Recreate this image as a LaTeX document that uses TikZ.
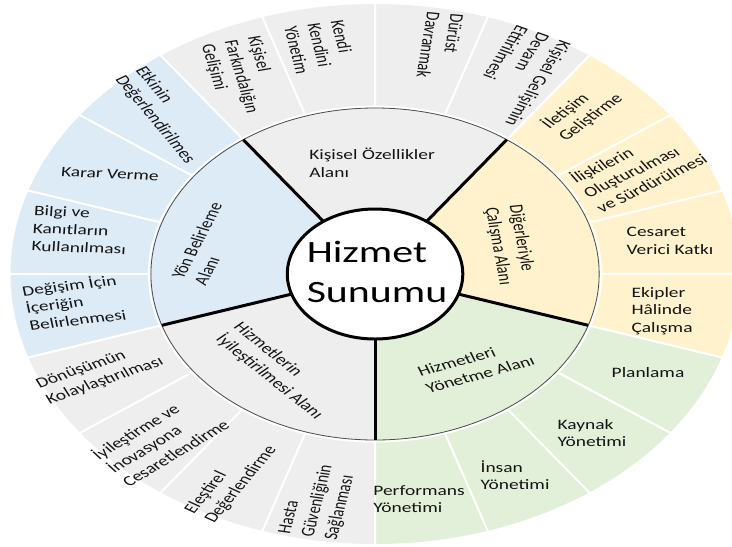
\documentclass[tikz,border=0pt]{standalone}
\usepackage{fontspec}
\setmainfont{Carlito}

\definecolor{greyarea}{HTML}{EEEEEE}
\definecolor{bluearea}{HTML}{DDEBF7}
\definecolor{yellowarea}{HTML}{FFF2CC}
\definecolor{greenarea}{HTML}{E2F0D9}

\begin{document}
\begin{tikzpicture}[x=1pt, y=1pt, xscale=1.35, transform shape,
  leaf/.style={align=left, text=black!92, font=\fontsize{14.4}{17.6}\selectfont},
  area/.style={align=left, text=black!92, font=\fontsize{14.4}{18}\selectfont},
  sep/.style={white, line width=2pt},
  divider/.style={black, line width=3pt}]

\useasboundingbox (-277.8,-272) rectangle (264.4,274) ;

% the five areas, inner and outer ring in one colour
\fill [greyarea] (54:65) arc [start angle=54, end angle=126, radius=65] -- (126:270) arc [start angle=126, end angle=54, radius=270] -- cycle ;
\fill [bluearea] (126:65) arc [start angle=126, end angle=198, radius=65] -- (198:270) arc [start angle=198, end angle=126, radius=270] -- cycle ;
\fill [greyarea] (198:65) arc [start angle=198, end angle=270, radius=65] -- (270:270) arc [start angle=270, end angle=198, radius=270] -- cycle ;
\fill [greenarea] (270:65) arc [start angle=270, end angle=342, radius=65] -- (342:270) arc [start angle=342, end angle=270, radius=270] -- cycle ;
\fill [yellowarea] (-18:65) arc [start angle=-18, end angle=54, radius=65] -- (54:270) arc [start angle=54, end angle=-18, radius=270] -- cycle ;

% white lines between the leaves
\draw [sep] (0:167) -- (0:271) (18:167) -- (18:271) (36:167) -- (36:271) (54:167) -- (54:271) (72:167) -- (72:271) ;
\draw [sep] (90:167) -- (90:271) (108:167) -- (108:271) (126:167) -- (126:271) (144:167) -- (144:271) (162:167) -- (162:271) ;
\draw [sep] (180:167) -- (180:271) (198:167) -- (198:271) (216:167) -- (216:271) (234:167) -- (234:271) (252:167) -- (252:271) ;
\draw [sep] (270:167) -- (270:271) (288:167) -- (288:271) (306:167) -- (306:271) (324:167) -- (324:271) (342:167) -- (342:271) ;

% ring between areas and leaves
\draw [white, line width=2pt] (0,0) circle [radius=167.5] ;
\draw [black!70, line width=0.8pt] (0,0) circle [radius=166] ;

% borders of the areas
\draw [divider] (54:65) -- (54:166) ;
\draw [divider] (126:65) -- (126:166) ;
\draw [divider] (198:65) -- (198:166) ;
\draw [divider] (270:65) -- (270:166) ;
\draw [divider] (342:65) -- (342:166) ;

\draw [fill=white, line width=3pt] (0,0) circle [radius=65] ;
\node [align=left, font=\fontsize{31}{40}\selectfont] (hizmet) at (1.5,2) {Hizmet\\Sunumu} ;

% areas
\node [area] (kisisel) at (-2.2,111) {Kişisel Özellikler\\Alanı} ;
\node [area, rotate=-82] (digerleri) at (100,29) {Diğerleriyle\\Çalışma Alanı} ;
\node [area, rotate=20] (yonetme) at (74.8,-92) {Hizmetleri\\Yönetme Alanı} ;
\node [area, rotate=-47] (iyilestirme) at (-71.9,-97) {Hizmetlerin\\İyileştirilmesi Alanı} ;
\node [area, rotate=68.5] (yon) at (-123.7,30) {Yön Belirleme\\Alanı} ;

% leaves
\node [leaf] (cesaret) at (218.5,33) {Cesaret\\Verici Katkı} ;
\node [leaf] (ekipler) at (212.6,-37) {Ekipler\\Hâlinde\\Çalışma} ;
\node [leaf] (planlama) at (202.2,-99) {Planlama} ;
\node [leaf] (kaynak) at (160.7,-159) {Kaynak\\Yönetimi} ;
\node [leaf] (insan) at (103.7,-201) {İnsan\\Yönetimi} ;
\node [leaf] (performans) at (32.6,-225) {Performans\\Yönetimi} ;
\node [leaf, rotate=79] (hasta) at (-42.2,-227) {Hasta\\Güvenliğinin\\Sağlanması} ;
\node [leaf, rotate=58] (elestirel) at (-106.7,-206) {Eleştirel\\Değerlendirme} ;
\node [leaf, rotate=39] (inovasyon) at (-159.3,-165) {İyileştirme ve\\İnovasyona\\Cesaretlendirme} ;
\node [leaf, rotate=25] (donusum) at (-203.7,-99) {Dönüşümün\\Kolaylaştırılması} ;
\node [leaf, rotate=9] (degisim) at (-223,-28) {Değişim İçin\\İçeriğin\\Belirlenmesi} ;
\node [leaf, rotate=-3] (bilgi) at (-218.5,44) {Bilgi ve\\Kanıtların\\Kullanılması} ;
\node [leaf, rotate=-4] (karar) at (-196.3,100) {Karar Verme} ;
\node [leaf, rotate=-58] (etki) at (-155.6,159) {Etkinin\\Değerlendirilmes} ;
\node [leaf, rotate=-77] (farkindalik) at (-99.3,197) {Kişisel\\Farkındalığın\\Gelişimi} ;
\node [leaf, rotate=-79] (kendi) at (-40.7,227) {Kendi\\Kendini\\Yönetim} ;
\node [leaf, rotate=-97] (durust) at (48.1,228) {Dürüst\\Davranmak} ;
\node [leaf, rotate=-116] (gelisim) at (105.2,198) {Kişisel Gelişimin\\Devam\\Ettirilmesi} ;
\node [leaf, rotate=45] (iletisim) at (153.3,163) {İletişim\\Geliştirme} ;
\node [leaf, rotate=33] (iliski) at (194.8,106) {İlişkilerin\\Oluşturulması\\ve Sürdürülmesi} ;

\end{tikzpicture}
\end{document}
